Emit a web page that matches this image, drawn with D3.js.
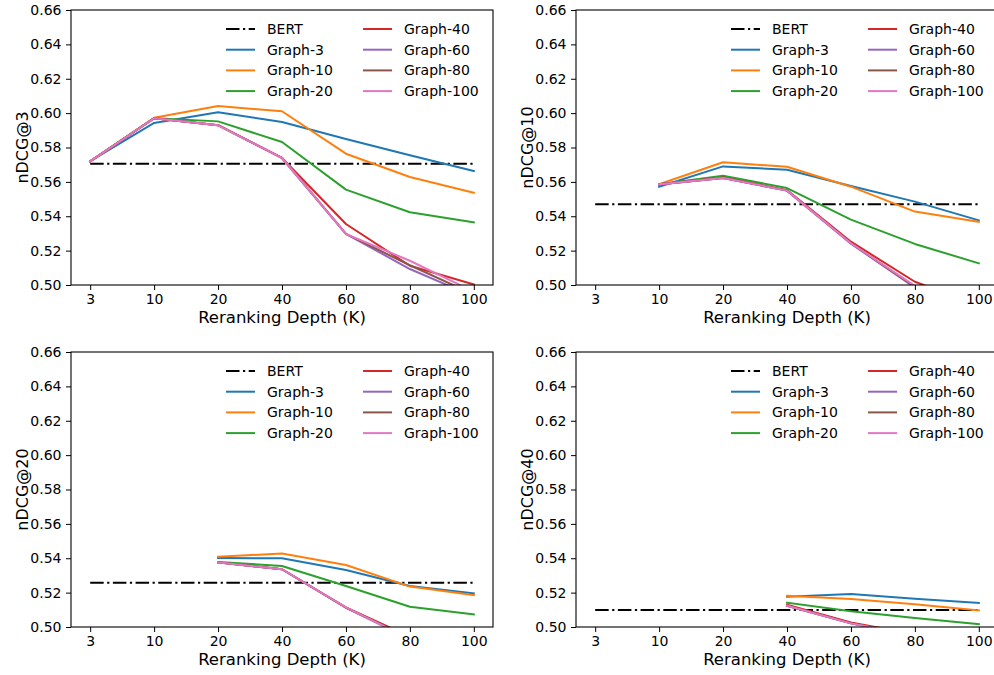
<!DOCTYPE html>
<html>
<head>
  <meta charset="UTF-8">
  <style>
    body { margin: 0; background: #fff; }
    svg { display: block; }
    text { font-family: "DejaVu Sans", sans-serif; fill: #000; }
  </style>
</head>
<body>
<svg></svg>
<script src="https://d3js.org/d3.v7.min.js"></script>
<script>

let width = 994, height = 675;

// reranking depths on x (treated as categories)
const depths = ["3", "10", "20", "40", "60", "80", "100"];
const seriesNames = ["Graph-3", "Graph-10", "Graph-20", "Graph-40", "Graph-60", "Graph-80", "Graph-100"];
const seriesColors = ["#1f77b4", "#ff7f0e", "#2ca02c", "#d62728", "#9467bd", "#8c564b", "#e377c2"];
const yTicks = [0.50, 0.52, 0.54, 0.56, 0.58, 0.60, 0.62, 0.64, 0.66];

const metrics = ["nDCG@3", "nDCG@10", "nDCG@20", "nDCG@40"];
const bert = [0.5705, 0.547, 0.5258, 0.5099];

// one row per Graph-k series, one column per depth (null = not run)
const ndcg3 = [
  [0.572, 0.5943, 0.6005, 0.5948, 0.5849, 0.5755, 0.5663],
  [0.572, 0.5973, 0.6041, 0.6011, 0.5764, 0.5628, 0.5537],
  [0.572, 0.597, 0.5952, 0.5832, 0.5555, 0.5423, 0.5365],
  [0.572, 0.597, 0.593, 0.5739, 0.5355, 0.5112, 0.5003],
  [0.572, 0.597, 0.593, 0.5739, 0.5297, 0.5093, 0.4933],
  [0.572, 0.597, 0.593, 0.5739, 0.5297, 0.5115, 0.4945],
  [0.572, 0.597, 0.5929, 0.5739, 0.5297, 0.5141, 0.4961]
];
const ndcg10 = [
  [null, 0.5572, 0.5690, 0.5671, 0.5576, 0.5485, 0.5376],
  [null, 0.5586, 0.5714, 0.5688, 0.5572, 0.5427, 0.5367],
  [null, 0.5586, 0.5636, 0.5564, 0.5380, 0.5239, 0.5126],
  [null, 0.5586, 0.5625, 0.5552, 0.5252, 0.5019, 0.4883],
  [null, 0.5586, 0.5623, 0.5549, 0.5240, 0.4985, 0.478],
  [null, 0.5586, 0.5623, 0.5549, 0.5243, 0.4990, 0.480],
  [null, 0.5586, 0.5623, 0.5549, 0.5243, 0.4995, 0.482]
];
const ndcg20 = [
  [null, null, 0.5401, 0.5400, 0.5332, 0.5239, 0.5196],
  [null, null, 0.5409, 0.5427, 0.5361, 0.5235, 0.5186],
  [null, null, 0.5378, 0.5355, 0.5239, 0.5118, 0.5074],
  [null, null, 0.5376, 0.5336, 0.5114, 0.4944, 0.485],
  [null, null, 0.5376, 0.5336, 0.5112, 0.4930, 0.480],
  [null, null, 0.5376, 0.5336, 0.5113, 0.4935, 0.482],
  [null, null, 0.5376, 0.5336, 0.5114, 0.4930, 0.481]
];
const ndcg40 = [
  [null, null, null, 0.5176, 0.5192, 0.5165, 0.514],
  [null, null, null, 0.5182, 0.5163, 0.5132, 0.5097],
  [null, null, null, 0.5141, 0.5091, 0.5052, 0.5016],
  [null, null, null, 0.5130, 0.5027, 0.4956, 0.490],
  [null, null, null, 0.5124, 0.5021, 0.4950, 0.488],
  [null, null, null, 0.5124, 0.5021, 0.4950, 0.489],
  [null, null, null, 0.5124, 0.5021, 0.4950, 0.489]
];
const panelData = [ndcg3, ndcg10, ndcg20, ndcg40];

let svg = d3.select("svg")
    .attr("width", width)
    .attr("height", height);

const panelW = 422, panelH = 275;
const panelPos = [[71, 10], [576, 10], [71, 352], [576, 352]];

panelPos.forEach((pos, i) => {
    let g = svg.append("g").attr("transform", "translate(" + pos[0] + "," + pos[1] + ")");

    let x = d3.scalePoint().domain(depths).range([0, panelW]).padding(0.3);
    let y = d3.scaleLinear().domain([0.50, 0.66]).range([panelH, 0]);

    g.append("clipPath").attr("id", "clip" + i)
      .append("rect").attr("width", panelW).attr("height", panelH);

    let plot = g.append("g").attr("clip-path", "url(#clip" + i + ")");

    // BERT baseline
    plot.append("line")
        .attr("x1", x(depths[0])).attr("x2", x(depths[depths.length - 1]))
        .attr("y1", y(bert[i])).attr("y2", y(bert[i]))
        .attr("stroke", "#000").attr("stroke-width", 2)
        .attr("stroke-dasharray", "13.5,3.5,2.2,3.5");

    let line = d3.line()
        .defined(d => d.v != null)
        .x(d => x(d.k))
        .y(d => y(d.v));

    panelData[i].forEach((vals, s) => {
        plot.append("path")
            .datum(vals.map((v, j) => ({k: depths[j], v: v})))
            .attr("d", line)
            .attr("fill", "none")
            .attr("stroke", seriesColors[s])
            .attr("stroke-width", 2)
            .attr("stroke-linejoin", "round")
            .attr("stroke-linecap", "square");
    });

    // axes
    let xAxis = g.append("g").attr("transform", "translate(0," + panelH + ")")
        .call(d3.axisBottom(x).tickSize(5).tickSizeOuter(0).tickPadding(4));
    let yAxis = g.append("g")
        .call(d3.axisLeft(y).tickValues(yTicks).tickFormat(d3.format(".2f")).tickSize(5).tickSizeOuter(0).tickPadding(4.5));
    [xAxis, yAxis].forEach(a => {
        a.select(".domain").remove();
        a.selectAll("text").style("font-size", "14px").style("font-family", "'DejaVu Sans'").attr("fill", "#000");
        a.selectAll("line").attr("stroke", "#000").attr("stroke-width", 1);
    });

    g.append("rect")
        .attr("width", panelW).attr("height", panelH)
        .attr("fill", "none").attr("stroke", "#000").attr("stroke-width", 1.1);

    g.append("text")
        .attr("x", panelW / 2).attr("y", panelH + 38)
        .attr("text-anchor", "middle")
        .style("font-size", "16.5px")
        .text("Reranking Depth (K)");

    g.append("text")
        .attr("transform", "translate(-43.5," + (panelH / 2) + ") rotate(-90)")
        .attr("text-anchor", "middle")
        .style("font-size", "16px")
        .text(metrics[i]);

    // legend, two columns of four
    let names = ["BERT"].concat(seriesNames);
    let colors = ["#000"].concat(seriesColors);
    let legend = g.append("g").attr("transform", "translate(" + (panelW - 267) + ",19)");
    names.forEach((n, k) => {
        let col = Math.floor(k / 4), row = k % 4;
        let item = legend.append("g").attr("transform", "translate(" + (col * 137) + "," + (row * 20.7) + ")");
        item.append("line")
            .attr("x1", 0).attr("x2", 29).attr("y1", 0).attr("y2", 0)
            .attr("stroke", colors[k]).attr("stroke-width", 2)
            .attr("stroke-dasharray", k === 0 ? "13.5,3.5,2.2,3.5" : null);
        item.append("text")
            .attr("x", 41).attr("y", 0).attr("dy", "0.36em")
            .style("font-size", "14px")
            .text(n);
    });
});

</script>
</body>
</html>
